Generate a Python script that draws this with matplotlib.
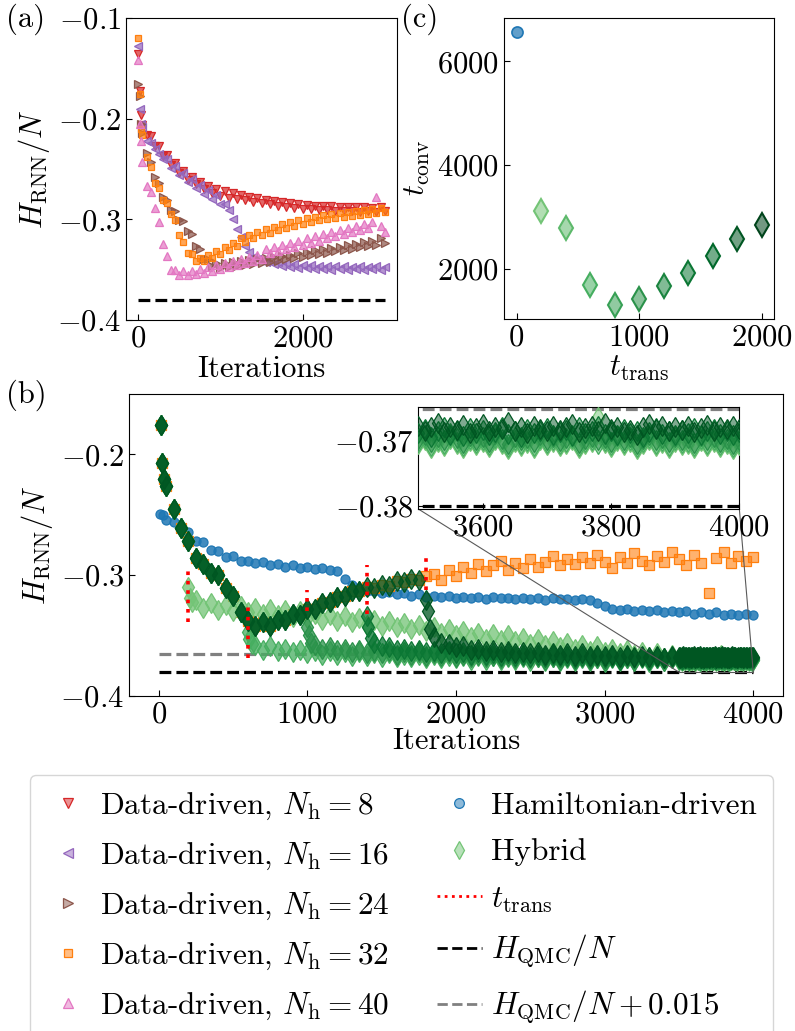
import numpy as np
import matplotlib
matplotlib.use("Agg")
import matplotlib.pyplot as plt
from matplotlib.colors import to_rgba
from matplotlib.lines import Line2D
from mpl_toolkits.axes_grid1.inset_locator import mark_inset

plt.rcParams["font.family"] = "serif"
plt.rcParams["font.serif"] = ["cmr10"]
plt.rcParams["mathtext.fontset"] = "cm"
plt.rcParams["axes.formatter.use_mathtext"] = True
plt.rcParams["font.size"] = 22
plt.rcParams["xtick.direction"] = "in"
plt.rcParams["ytick.direction"] = "in"
plt.rcParams["xtick.major.size"] = 4.5
plt.rcParams["ytick.major.size"] = 4.5

H_QMC = -0.3801

# ---- (a) data-driven training, first iterations then every 50 iterations
early_it_a = [0, 15, 30]
dd8_early = [-0.136, -0.172, -0.196]
dd16_early = [-0.128, -0.190, -0.205]
dd24_early = [-0.166, -0.177, -0.205]
dd32_early = [-0.120, -0.175, -0.210]
dd40_early = [-0.142, -0.205, -0.222]

dd8 = [-0.206, -0.216, -0.217, -0.227, -0.227, -0.237, -0.236, -0.246, -0.244, -0.254,
       -0.252, -0.261, -0.258, -0.265, -0.263, -0.270, -0.267, -0.274, -0.270, -0.277,
       -0.272, -0.279, -0.274, -0.280, -0.276, -0.281, -0.278, -0.283, -0.279, -0.284,
       -0.281, -0.285, -0.282, -0.287, -0.283, -0.288, -0.284, -0.289, -0.285, -0.290,
       -0.286, -0.290, -0.287, -0.291, -0.287, -0.291, -0.287, -0.292, -0.288, -0.292,
       -0.288, -0.292, -0.288, -0.293, -0.288, -0.292, -0.289, -0.293, -0.288, -0.292]
dd16 = [-0.208, -0.222, -0.224, -0.230, -0.235, -0.240, -0.240, -0.249, -0.247, -0.256,
        -0.254, -0.263, -0.260, -0.269, -0.266, -0.275, -0.271, -0.280, -0.276, -0.285,
        -0.285, -0.291, -0.300, -0.310, -0.318, -0.326, -0.332, -0.337, -0.339, -0.341,
        -0.342, -0.340, -0.344, -0.342, -0.346, -0.343, -0.347, -0.344, -0.348, -0.345,
        -0.348, -0.345, -0.349, -0.346, -0.349, -0.346, -0.350, -0.346, -0.349, -0.346,
        -0.350, -0.347, -0.349, -0.346, -0.350, -0.347, -0.349, -0.346, -0.350, -0.347]
dd24 = [-0.214, -0.234, -0.243, -0.258, -0.264, -0.278, -0.281, -0.291, -0.292, -0.301,
        -0.302, -0.312, -0.315, -0.326, -0.329, -0.339, -0.339, -0.346, -0.343, -0.348,
        -0.343, -0.347, -0.342, -0.346, -0.341, -0.345, -0.340, -0.344, -0.339, -0.343,
        -0.338, -0.342, -0.337, -0.341, -0.336, -0.339, -0.335, -0.338, -0.333, -0.337,
        -0.332, -0.335, -0.330, -0.334, -0.329, -0.333, -0.328, -0.331, -0.327, -0.330,
        -0.325, -0.329, -0.324, -0.327, -0.322, -0.326, -0.321, -0.325, -0.319, -0.323]
dd32 = [-0.216, -0.238, -0.248, -0.264, -0.269, -0.281, -0.284, -0.295, -0.301, -0.316,
        -0.322, -0.333, -0.334, -0.341, -0.338, -0.341, -0.335, -0.338, -0.331, -0.334,
        -0.327, -0.330, -0.323, -0.326, -0.319, -0.322, -0.316, -0.319, -0.313, -0.316,
        -0.310, -0.314, -0.308, -0.311, -0.305, -0.309, -0.303, -0.307, -0.301, -0.305,
        -0.299, -0.303, -0.298, -0.301, -0.296, -0.300, -0.295, -0.299, -0.294, -0.298,
        -0.293, -0.297, -0.292, -0.296, -0.291, -0.295, -0.290, -0.294, -0.289, -0.293]
dd40 = [-0.243, -0.267, -0.273, -0.289, -0.303, -0.324, -0.336, -0.350, -0.350, -0.355,
        -0.351, -0.355, -0.351, -0.354, -0.349, -0.353, -0.347, -0.351, -0.345, -0.349,
        -0.343, -0.347, -0.341, -0.345, -0.339, -0.343, -0.337, -0.341, -0.335, -0.339,
        -0.329, -0.333, -0.327, -0.331, -0.325, -0.329, -0.323, -0.327, -0.321, -0.325,
        -0.319, -0.323, -0.317, -0.321, -0.315, -0.319, -0.313, -0.317, -0.311, -0.315,
        -0.309, -0.313, -0.307, -0.311, -0.305, -0.309, -0.303, -0.278, -0.307, -0.313]

# ---- (c) convergence time vs transition point
t_trans_c = [200, 400, 600, 800, 1000, 1200, 1400, 1600, 1800, 2000]
t_conv_hybrid = [3120, 2780, 1690, 1300, 1415, 1665, 1925, 2255, 2580, 2840]
t_conv_ham = 6570

# ---- (b) data-driven (N_h = 32) path shared by the hybrids before t_trans
early_it_b = [15, 25, 35]
path_early = [-0.176, -0.207, -0.220]
path = [-0.226, -0.245, -0.261, -0.272, -0.286, -0.291, -0.298, -0.300, -0.311, -0.317,
        -0.331, -0.338, -0.342, -0.339, -0.342, -0.337, -0.337, -0.332, -0.333, -0.328,
        -0.328, -0.323, -0.322, -0.318, -0.317, -0.313, -0.313, -0.310, -0.311, -0.308,
        -0.309, -0.305, -0.306, -0.303, -0.304, -0.301]
# data-driven continued after 1800 iterations
dd32_tail = [-0.299, -0.304, -0.296, -0.301,
             -0.293, -0.298, -0.291, -0.297, -0.292, -0.288, -0.296, -0.290, -0.294, -0.287,
             -0.293, -0.289, -0.284, -0.292, -0.287, -0.291, -0.285, -0.290, -0.283, -0.289,
             -0.294, -0.285, -0.290, -0.282, -0.288, -0.292, -0.284, -0.289, -0.281, -0.287,
             -0.292, -0.283, -0.290, -0.315, -0.286, -0.281, -0.290, -0.284, -0.288, -0.285]

ham_early_it = [10, 30]
ham_early = [-0.249, -0.250]
ham = [-0.254, -0.256, -0.262, -0.264, -0.272, -0.273, -0.279, -0.280, -0.285, -0.284,
       -0.288, -0.288, -0.290, -0.289, -0.292, -0.291, -0.293, -0.292, -0.294, -0.293,
       -0.295, -0.294, -0.296, -0.297, -0.303, -0.308, -0.311, -0.313, -0.313, -0.315,
       -0.314, -0.316, -0.315, -0.317, -0.316, -0.318, -0.317, -0.318, -0.317, -0.319,
       -0.318, -0.319, -0.318, -0.320, -0.318, -0.319, -0.319, -0.320, -0.319, -0.320,
       -0.319, -0.321, -0.319, -0.320, -0.320, -0.321, -0.320, -0.321, -0.323, -0.326,
       -0.328, -0.329, -0.328, -0.330, -0.329, -0.330, -0.329, -0.331, -0.330, -0.331,
       -0.330, -0.332, -0.331, -0.332, -0.331, -0.333, -0.332, -0.333, -0.332, -0.333]

# hybrid runs after the switch: t, t+10, t+25, then every 50 up to 3450,
# then every 10 from 3500 to 4000
t_trans_b = [200, 600, 1000, 1400, 1800]
drop_offsets = [0, 10, 25]
hyb200_drop = [-0.310, -0.319, -0.322]
hyb600_drop = [-0.347, -0.353, -0.357]
hyb1000_drop = [-0.343, -0.350, -0.356]
hyb1400_drop = [-0.334, -0.343, -0.352]
hyb1800_drop = [-0.321, -0.330, -0.345]

hyb200 = [-0.321, -0.327, -0.323, -0.329, -0.325, -0.330, -0.326, -0.331, -0.327, -0.332,
          -0.328, -0.333, -0.329, -0.335, -0.330, -0.336, -0.332, -0.337, -0.333, -0.338,
          -0.334, -0.339, -0.336, -0.341, -0.337, -0.342, -0.338, -0.343, -0.340, -0.345,
          -0.341, -0.346, -0.343, -0.348, -0.345, -0.350, -0.346, -0.351, -0.348, -0.353,
          -0.349, -0.354, -0.350, -0.355, -0.352, -0.357, -0.353, -0.358, -0.355, -0.360,
          -0.356, -0.361, -0.358, -0.363, -0.359, -0.364, -0.361, -0.365, -0.362, -0.366,
          -0.364, -0.368, -0.365, -0.369, -0.366]
hyb600 = [-0.358, -0.362, -0.359, -0.363, -0.361, -0.364, -0.362, -0.365, -0.363, -0.366,
          -0.363, -0.366, -0.364, -0.367, -0.364, -0.367, -0.365, -0.368, -0.365, -0.368,
          -0.366, -0.368, -0.366, -0.369, -0.366, -0.369, -0.367, -0.369, -0.367, -0.370,
          -0.367, -0.370, -0.367, -0.370, -0.368, -0.370, -0.368, -0.371, -0.368, -0.371,
          -0.368, -0.371, -0.369, -0.371, -0.369, -0.371, -0.369, -0.372, -0.369, -0.371,
          -0.369, -0.371, -0.369, -0.372, -0.369, -0.371, -0.369]
hyb1000 = [-0.358, -0.361, -0.360, -0.362, -0.361, -0.364, -0.362, -0.365, -0.363, -0.365,
           -0.363, -0.366, -0.364, -0.366, -0.364, -0.367, -0.365, -0.367, -0.365, -0.368,
           -0.366, -0.368, -0.366, -0.368, -0.367, -0.369, -0.367, -0.369, -0.367, -0.369,
           -0.368, -0.370, -0.368, -0.370, -0.368, -0.370, -0.368, -0.370, -0.369, -0.371,
           -0.368, -0.370, -0.369, -0.371, -0.368, -0.370, -0.369, -0.371, -0.369]
hyb1400 = [-0.356, -0.359, -0.360, -0.362, -0.361, -0.363, -0.362, -0.364, -0.363, -0.365,
           -0.363, -0.365, -0.364, -0.366, -0.364, -0.366, -0.365, -0.367, -0.365, -0.367,
           -0.366, -0.368, -0.366, -0.368, -0.366, -0.368, -0.367, -0.369, -0.367, -0.369,
           -0.367, -0.369, -0.368, -0.370, -0.367, -0.369, -0.368, -0.370, -0.368, -0.369,
           -0.368]
hyb1800 = [-0.351, -0.356, -0.357, -0.360,
           -0.359, -0.362, -0.361, -0.363, -0.362, -0.364, -0.363, -0.365, -0.364, -0.365,
           -0.364, -0.366, -0.365, -0.366, -0.365, -0.367, -0.365, -0.367, -0.366, -0.367,
           -0.366, -0.368, -0.366, -0.368, -0.367, -0.368, -0.367, -0.369, -0.367]

hyb200_fine = [-0.3705, -0.3699, -0.3710, -0.3702, -0.3707, -0.3697, -0.3704, -0.3711, -0.3700, -0.3706,
               -0.3702, -0.3709, -0.3698, -0.3705, -0.3712, -0.3701, -0.3707, -0.3703, -0.3710, -0.3699,
               -0.3706, -0.3702, -0.3708, -0.3704, -0.3698, -0.3711, -0.3705, -0.3701, -0.3663, -0.3703,
               -0.3709, -0.3700, -0.3706, -0.3702, -0.3712, -0.3704, -0.3699, -0.3707, -0.3703, -0.3710,
               -0.3701, -0.3706, -0.3704, -0.3711, -0.3700, -0.3707, -0.3702, -0.3709, -0.3705, -0.3712,
               -0.3706]
hyb600_fine = [-0.3702, -0.3696, -0.3707, -0.3699, -0.3704, -0.3694, -0.3701, -0.3708, -0.3697, -0.3703,
               -0.3699, -0.3706, -0.3695, -0.3702, -0.3709, -0.3698, -0.3704, -0.3700, -0.3707, -0.3696,
               -0.3703, -0.3699, -0.3705, -0.3701, -0.3695, -0.3708, -0.3702, -0.3698, -0.3704, -0.3700,
               -0.3706, -0.3697, -0.3703, -0.3699, -0.3709, -0.3701, -0.3696, -0.3704, -0.3700, -0.3707,
               -0.3698, -0.3703, -0.3701, -0.3708, -0.3697, -0.3704, -0.3699, -0.3706, -0.3702, -0.3709,
               -0.3703]
hyb1000_fine = [-0.3697, -0.3690, -0.3702, -0.3694, -0.3699, -0.3688, -0.3696, -0.3703, -0.3692, -0.3698,
                -0.3694, -0.3701, -0.3689, -0.3697, -0.3704, -0.3693, -0.3699, -0.3695, -0.3702, -0.3691,
                -0.3698, -0.3694, -0.3700, -0.3696, -0.3690, -0.3703, -0.3697, -0.3693, -0.3699, -0.3695,
                -0.3701, -0.3692, -0.3698, -0.3694, -0.3704, -0.3697, -0.3691, -0.3699, -0.3695, -0.3702,
                -0.3693, -0.3698, -0.3696, -0.3703, -0.3692, -0.3699, -0.3694, -0.3701, -0.3697, -0.3704,
                -0.3698]
hyb1400_fine = [-0.3688, -0.3681, -0.3693, -0.3685, -0.3679, -0.3690, -0.3684, -0.3692, -0.3680, -0.3687,
                -0.3683, -0.3691, -0.3686, -0.3678, -0.3689, -0.3684, -0.3693, -0.3681, -0.3688, -0.3685,
                -0.3680, -0.3690, -0.3686, -0.3683, -0.3692, -0.3679, -0.3687, -0.3684, -0.3677, -0.3689,
                -0.3685, -0.3691, -0.3682, -0.3688, -0.3684, -0.3693, -0.3686, -0.3680, -0.3689, -0.3684,
                -0.3691, -0.3683, -0.3688, -0.3680, -0.3690, -0.3685, -0.3682, -0.3689, -0.3684, -0.3691,
                -0.3686]
hyb1800_fine = [-0.3676, -0.3684, -0.3679, -0.3672, -0.3686, -0.3678, -0.3683, -0.3675, -0.3688, -0.3680,
                -0.3674, -0.3685, -0.3679, -0.3682, -0.3671, -0.3684, -0.3678, -0.3687, -0.3676, -0.3681,
                -0.3685, -0.3677, -0.3683, -0.3679, -0.3674, -0.3686, -0.3680, -0.3676, -0.3684, -0.3672,
                -0.3681, -0.3678, -0.3686, -0.3683, -0.3690, -0.3679, -0.3674, -0.3682, -0.3676, -0.3685,
                -0.3679, -0.3683, -0.3677, -0.3686, -0.3680, -0.3675, -0.3684, -0.3679, -0.3682, -0.3676,
                -0.3681]

# extent of the red t_trans markers
trans_top = [-0.293, -0.3235, -0.312, -0.292, -0.283]
trans_bottom = [-0.339, -0.369, -0.330, -0.332, -0.312]


def every50(vals, start):
    return start + 50 * np.arange(len(vals))


def scat(ax, x, y, color, marker, ms, alpha=0.7, mew=0.9, z=2):
    return ax.plot(x, y, ls="none", marker=marker, ms=ms, mew=mew,
                   mec=color, mfc=to_rgba(color, alpha), zorder=z)[0]


def marker_key(color, marker, ms):
    return Line2D([], [], ls="none", marker=marker, ms=ms, mew=0.9,
                  mec=color, mfc=to_rgba(color, 0.5))


fig = plt.figure(figsize=(7.95, 10.31), dpi=100)
ax_a = fig.add_axes([0.1585, 0.6896, 0.3409, 0.2929])
ax_c = fig.add_axes([0.6343, 0.6906, 0.3396, 0.2919])
ax_b = fig.add_axes([0.1623, 0.3252, 0.8226, 0.2926])
ax_in = fig.add_axes([0.5262, 0.5063, 0.4038, 0.0992])

# (a)
dd_runs = [(dd8_early, dd8, "tab:red", "v", 8),
           (dd16_early, dd16, "tab:purple", "<", 16),
           (dd24_early, dd24, "tab:brown", ">", 24),
           (dd32_early, dd32, "tab:orange", "s", 32),
           (dd40_early, dd40, "tab:pink", "^", 40)]
dd_keys = []
for early, vals, col, mk, nh in dd_runs:
    x = np.r_[early_it_a, every50(vals, 50)]
    y = np.r_[early, vals]
    ms = 5 if mk == "s" else 6
    scat(ax_a, x, y, col, mk, ms)
    dd_keys.append(marker_key(col, mk, 7 if mk != "s" else 6))
ax_a.hlines(H_QMC, 0, 3000, colors="k", linestyles="--", lw=2.3)
ax_a.set_ylim(-0.4, -0.1)
ax_a.set_yticks([-0.4, -0.3, -0.2, -0.1])
ax_a.set_xticks([0, 2000])
ax_a.set_xlabel("Iterations", labelpad=2)
ax_a.set_ylabel(r"$H_\mathrm{RNN}/N$")

# (c)
greens = plt.cm.Greens(np.linspace(0.5, 1.0, len(t_trans_c)))
ax_c.plot([0], [t_conv_ham], ls="none", marker="o", ms=8, mew=1.2,
          mec="tab:blue", mfc=to_rgba("tab:blue", 0.7))
for t, tc, col in zip(t_trans_c, t_conv_hybrid, greens):
    ax_c.plot([t], [tc], ls="none", marker="d", ms=12, mew=1.5,
              mec=col, mfc=to_rgba(col, 0.55))
ax_c.set_xticks([0, 1000, 2000])
ax_c.set_yticks([2000, 4000, 6000])
ax_c.set_xlabel(r"$t_\mathrm{trans}$", labelpad=2)
ax_c.set_ylabel(r"$t_\mathrm{conv}$")

# (b)
path_it = np.r_[early_it_b, every50(path, 50)]
path_val = np.r_[path_early, path]
scat(ax_b, np.r_[ham_early_it, every50(ham, 50)], np.r_[ham_early, ham],
     "tab:blue", "o", 6.5, alpha=0.85, z=2)
scat(ax_b, np.r_[path_it, every50(dd32_tail, 1850)], np.r_[path_val, dd32_tail],
     "tab:orange", "s", 7, alpha=0.6, z=2)

fine_it = np.arange(3500, 4001, 10)
hyb_drops = [hyb200_drop, hyb600_drop, hyb1000_drop, hyb1400_drop, hyb1800_drop]
hyb_tails = [hyb200, hyb600, hyb1000, hyb1400, hyb1800]
hyb_fines = [hyb200_fine, hyb600_fine, hyb1000_fine, hyb1400_fine, hyb1800_fine]
hyb_cols = [greens[0], greens[2], greens[4], greens[6], greens[8]]
for i, t in enumerate(t_trans_b):
    before = path_it < t
    x = np.r_[path_it[before], t + np.array(drop_offsets),
              every50(hyb_tails[i], t + 50), fine_it]
    y = np.r_[path_val[before], hyb_drops[i], hyb_tails[i], hyb_fines[i]]
    scat(ax_b, x, y, hyb_cols[i], "d", 10, alpha=0.75, z=3 + i)
    scat(ax_in, x, y, hyb_cols[i], "d", 10, alpha=0.5, z=3 + i)

for t, lo, hi in zip(t_trans_b, trans_bottom, trans_top):
    ax_b.plot([t, t], [lo, hi], color="red", ls=(0, (1, 1.6)), lw=2.6, zorder=10)

for ax in (ax_b, ax_in):
    ax.hlines(H_QMC + 0.015, 0, 4000, colors="grey", linestyles="--", lw=2.3, zorder=1)
    ax.hlines(H_QMC, 0, 4000, colors="k", linestyles="--", lw=2.3, zorder=1)

ax_b.set_ylim(-0.4, -0.15)
ax_b.set_yticks([-0.4, -0.3, -0.2])
ax_b.set_xticks([0, 1000, 2000, 3000, 4000])
ax_b.set_xlabel("Iterations", labelpad=0)
ax_b.set_ylabel(r"$H_\mathrm{RNN}/N$")

ax_in.set_xlim(3500, 4000)
ax_in.set_ylim(-0.3805, -0.3647)
ax_in.set_xticks([3600, 3800, 4000])
ax_in.set_yticks([-0.38, -0.37])
mark_inset(ax_b, ax_in, loc1=3, loc2=4, fc="none", ec="0.35", lw=0.8)

fig.text(0.008, 0.997, "(a)", va="top", ha="left")
fig.text(0.505, 0.997, "(c)", va="top", ha="left")
fig.text(0.008, 0.632, "(b)", va="top", ha="left")

# legend under the panels
ham_key = marker_key("tab:blue", "o", 7)
hyb_key = marker_key(greens[0], "d", 9)
tr_key = Line2D([], [], color="red", ls=(0, (1, 1.6)), lw=2)
q_key = Line2D([], [], color="k", ls="--", lw=2)
q2_key = Line2D([], [], color="grey", ls="--", lw=2)
handles = dd_keys + [ham_key, hyb_key, tr_key, q_key, q2_key]
labels = [r"Data-driven, $N_\mathrm{h}=%d$" % r[4] for r in dd_runs] + [
    "Hamiltonian-driven", "Hybrid", r"$t_\mathrm{trans}$",
    r"$H_\mathrm{QMC}/N$", r"$H_\mathrm{QMC}/N+0.015$"]
fig.legend(handles, labels, ncol=2, loc="upper left",
           bbox_to_anchor=(0.0377, 0.2483), borderaxespad=0, borderpad=0.5,
           numpoints=1, handlelength=1.45, handletextpad=0.3, columnspacing=1.5,
           labelspacing=0.6, fontsize=22.5, edgecolor="0.8")

fig.savefig("out.png", dpi=100)
